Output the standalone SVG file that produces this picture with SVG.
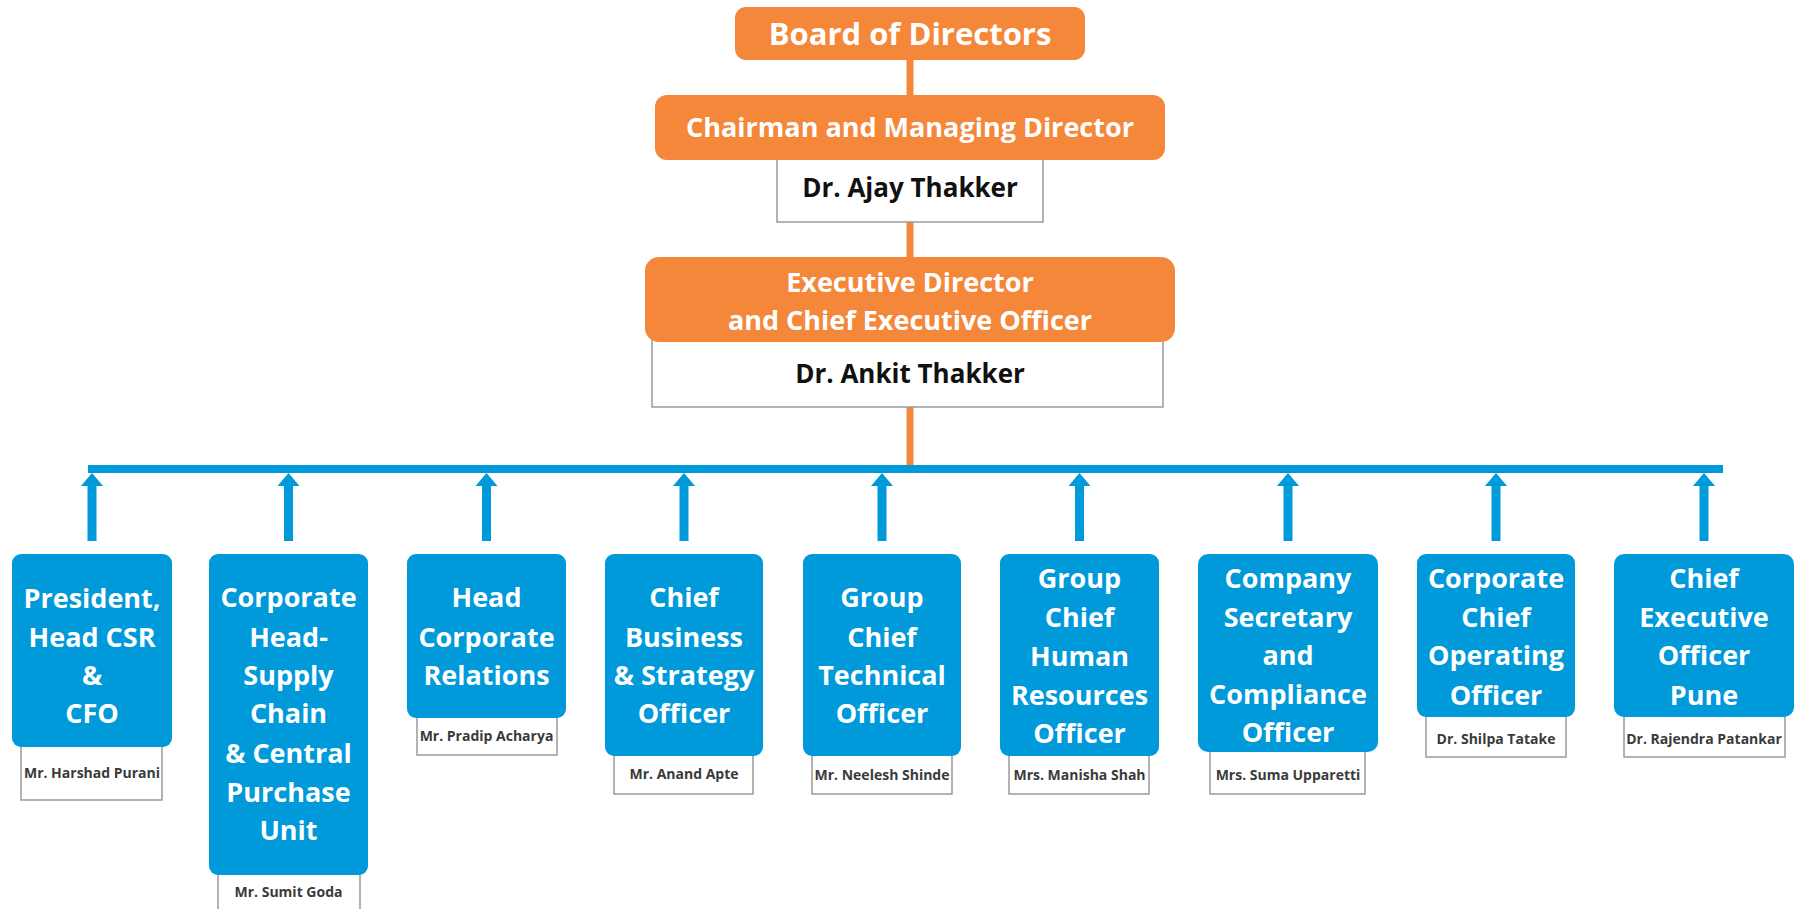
<svg xmlns="http://www.w3.org/2000/svg" width="1794" height="909" viewBox="0 0 1794 909">
<style>
text{font-family:"Open Sans","Liberation Sans",sans-serif;font-weight:700;text-anchor:middle}
.o{fill:#F5873A}
.b{fill:#0099DA}
.nb{fill:#fff;stroke:#9a9a9a;stroke-width:1.5}
.w{fill:#fff;font-size:27px}
.k{fill:#111;font-size:26px}
.n{fill:#3a3a3a;font-size:14px}
.ol{stroke:#F5873A;stroke-width:7;fill:none}
.bl{stroke:#0099DA;stroke-width:9;fill:none}
</style>
<rect width="1794" height="909" fill="#fff"/>
<g id="connectors">
<line class="ol" x1="910" y1="58" x2="910" y2="97"/>
<line class="ol" x1="910" y1="220" x2="910" y2="259"/>
<line class="ol" x1="910" y1="405" x2="910" y2="466"/>
<rect x="88" y="465" width="1635" height="8" fill="#0099DA"/>
<g class="arrows">
<path d="M92,541V485" class="bl"/><path d="M81,486L92,473L103,486Z" class="b"/>
<path d="M288.5,541V485" class="bl"/><path d="M277.5,486L288.5,473L299.5,486Z" class="b"/>
<path d="M486.5,541V485" class="bl"/><path d="M475.5,486L486.5,473L497.5,486Z" class="b"/>
<path d="M684,541V485" class="bl"/><path d="M673,486L684,473L695,486Z" class="b"/>
<path d="M882,541V485" class="bl"/><path d="M871,486L882,473L893,486Z" class="b"/>
<path d="M1079.5,541V485" class="bl"/><path d="M1068.5,486L1079.5,473L1090.5,486Z" class="b"/>
<path d="M1288,541V485" class="bl"/><path d="M1277,486L1288,473L1299,486Z" class="b"/>
<path d="M1496,541V485" class="bl"/><path d="M1485,486L1496,473L1507,486Z" class="b"/>
<path d="M1704,541V485" class="bl"/><path d="M1693,486L1704,473L1715,486Z" class="b"/>
</g>
</g>
<g id="board">
<rect class="o" x="735" y="7" width="350" height="53" rx="11"/>
<text x="910" y="45" fill="#fff" style="font-size:31px">Board of Directors</text>
</g>
<g id="cmd">
<rect class="nb" x="777" y="158" width="266" height="64"/>
<rect class="o" x="655" y="95" width="510" height="65" rx="12"/>
<text x="910" y="137" fill="#fff" style="font-size:27px">Chairman and Managing Director</text>
<text class="k" x="910" y="197">Dr. Ajay Thakker</text>
</g>
<g id="ceo">
<rect class="nb" x="652" y="340" width="511" height="67"/>
<rect class="o" x="645" y="257" width="530" height="85" rx="14"/>
<text class="w" x="910" y="292">Executive Director</text>
<text class="w" x="910" y="330">and Chief Executive Officer</text>
<text class="k" x="910" y="383">Dr. Ankit Thakker</text>
</g>
<g id="n1">
<rect class="nb" x="21" y="745" width="141" height="55"/>
<rect class="b" x="12" y="554" width="160" height="193" rx="9"/>
<text class="w" x="92" y="608">President,</text>
<text class="w" x="92" y="647">Head CSR</text>
<text class="w" x="92" y="685">&amp;</text>
<text class="w" x="92" y="723">CFO</text>
<text class="n" x="92" y="778">Mr. Harshad Purani</text>
</g>
<g id="n2">
<rect class="nb" x="218" y="873" width="142" height="50"/>
<rect class="b" x="209" y="554" width="159" height="321" rx="9"/>
<text class="w" x="288.5" y="607">Corporate</text>
<text class="w" x="288.5" y="647">Head-</text>
<text class="w" x="288.5" y="685">Supply</text>
<text class="w" x="288.5" y="723">Chain</text>
<text class="w" x="288.5" y="763">&amp; Central</text>
<text class="w" x="288.5" y="802">Purchase</text>
<text class="w" x="288.5" y="840">Unit</text>
<text class="n" x="288.5" y="897">Mr. Sumit Goda</text>
</g>
<g id="n3">
<rect class="nb" x="417" y="716" width="140" height="39"/>
<rect class="b" x="407" y="554" width="159" height="164" rx="9"/>
<text class="w" x="486.5" y="607">Head</text>
<text class="w" x="486.5" y="647">Corporate</text>
<text class="w" x="486.5" y="685">Relations</text>
<text class="n" x="486.5" y="741">Mr. Pradip Acharya</text>
</g>
<g id="n4">
<rect class="nb" x="614" y="754" width="139" height="40"/>
<rect class="b" x="605" y="554" width="158" height="202" rx="9"/>
<text class="w" x="684" y="607">Chief</text>
<text class="w" x="684" y="647">Business</text>
<text class="w" x="684" y="685">&amp; Strategy</text>
<text class="w" x="684" y="723">Officer</text>
<text class="n" x="684" y="779">Mr. Anand Apte</text>
</g>
<g id="n5">
<rect class="nb" x="812" y="754" width="140" height="40"/>
<rect class="b" x="803" y="554" width="158" height="202" rx="9"/>
<text class="w" x="882" y="607">Group</text>
<text class="w" x="882" y="647">Chief</text>
<text class="w" x="882" y="685">Technical</text>
<text class="w" x="882" y="723">Officer</text>
<text class="n" x="882" y="780">Mr. Neelesh Shinde</text>
</g>
<g id="n6">
<rect class="nb" x="1009" y="754" width="140" height="40"/>
<rect class="b" x="1000" y="554" width="159" height="202" rx="9"/>
<text class="w" x="1079.5" y="588">Group</text>
<text class="w" x="1079.5" y="627">Chief</text>
<text class="w" x="1079.5" y="666">Human</text>
<text class="w" x="1079.5" y="705">Resources</text>
<text class="w" x="1079.5" y="743">Officer</text>
<text class="n" x="1079.5" y="780">Mrs. Manisha Shah</text>
</g>
<g id="n7">
<rect class="nb" x="1210" y="750" width="155" height="44"/>
<rect class="b" x="1198" y="554" width="180" height="198" rx="10"/>
<text class="w" x="1288" y="588">Company</text>
<text class="w" x="1288" y="627">Secretary</text>
<text class="w" x="1288" y="665">and</text>
<text class="w" x="1288" y="704">Compliance</text>
<text class="w" x="1288" y="742">Officer</text>
<text class="n" x="1288" y="780">Mrs. Suma Upparetti</text>
</g>
<g id="n8">
<rect class="nb" x="1426" y="715" width="140" height="42"/>
<rect class="b" x="1417" y="554" width="158" height="163" rx="9"/>
<text class="w" x="1496" y="588">Corporate</text>
<text class="w" x="1496" y="627">Chief</text>
<text class="w" x="1496" y="665">Operating</text>
<text class="w" x="1496" y="705">Officer</text>
<text class="n" x="1496" y="744">Dr. Shilpa Tatake</text>
</g>
<g id="n9">
<rect class="nb" x="1624" y="715" width="161" height="42"/>
<rect class="b" x="1614" y="554" width="180" height="163" rx="10"/>
<text class="w" x="1704" y="588">Chief</text>
<text class="w" x="1704" y="627">Executive</text>
<text class="w" x="1704" y="665">Officer</text>
<text class="w" x="1704" y="705">Pune</text>
<text class="n" x="1704" y="744">Dr. Rajendra Patankar</text>
</g>
</svg>
